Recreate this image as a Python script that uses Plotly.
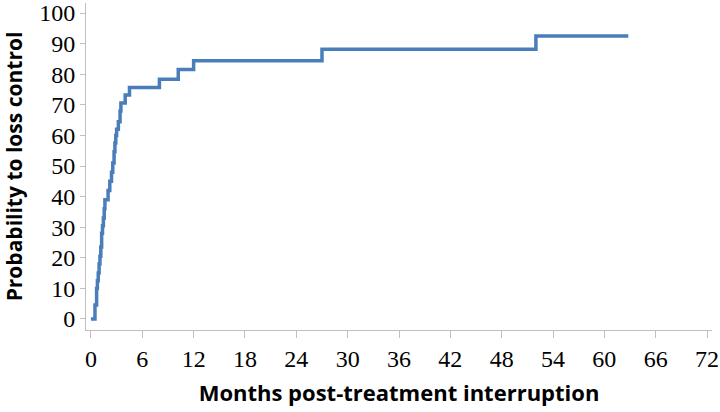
import plotly.graph_objects as go

months = [0, 0.47, 0.66, 0.75, 0.85, 0.95, 1.05, 1.15, 1.25, 1.35, 1.45, 1.55, 1.63, 2.0, 2.2, 2.4,
          2.55, 2.7, 2.8, 2.9, 3.0, 3.2, 3.4, 3.5, 4.0, 4.5, 8.0, 10.2, 12.0, 27.0, 52.0, 62.8]
prob = [0, 4.6, 10, 12.5, 15, 18, 20.5, 23.5, 28, 30.5, 33, 36, 39, 42, 45, 48,
        51, 54.7, 57.5, 60, 62, 64.5, 68, 70.6, 73.2, 75.7, 78.4, 81.6, 84.4, 88.2, 92.5, 92.5]

x_ticks = list(range(0, 73, 6))
y_ticks = list(range(0, 101, 10))

fig = go.Figure()
fig.add_trace(go.Scatter(x=months, y=prob, mode="lines", line_shape="hv",
                         line=dict(color="#4a7ebb", width=3.5), showlegend=False))

tickfont = dict(family="Liberation Serif", size=24, color="#000000")
xtitlefont = dict(family="Open Sans", size=22, color="#000000", weight="bold")
ytitlefont = dict(family="Open Sans", size=21, color="#000000", weight="bold")

fig.update_layout(
    width=720, height=412,
    margin=dict(l=86, r=8, t=3, b=82),
    paper_bgcolor="white", plot_bgcolor="white",
    xaxis=dict(range=[-0.58, 72.58], tickvals=x_ticks, ticktext=[str(v) for v in x_ticks],
               automargin=False, ticklabeloverflow="allow",
               showgrid=False, zeroline=False, showline=True, linecolor="#bfbfbf", linewidth=1,
               ticks="outside", ticklen=7, tickcolor="#bfbfbf", tickfont=tickfont,
               title=dict(text="Months post-treatment interruption", font=xtitlefont, standoff=14)),
    yaxis=dict(range=[-3.6, 103.3], tickvals=y_ticks, ticktext=[str(v) for v in y_ticks],
               automargin=False, ticklabeloverflow="allow",
               showgrid=False, zeroline=False, showline=True, linecolor="#bfbfbf", linewidth=1,
               ticks="outside", ticklen=5, tickcolor="#bfbfbf", tickfont=tickfont,
               title=dict(text="Probability to loss control", font=ytitlefont, standoff=11)),
)

fig.write_html("out.html", config={"displayModeBar": False},
               post_script="document.documentElement.style.overflow='hidden';"
                           "document.body.style.margin='0';document.body.style.overflow='hidden';")
